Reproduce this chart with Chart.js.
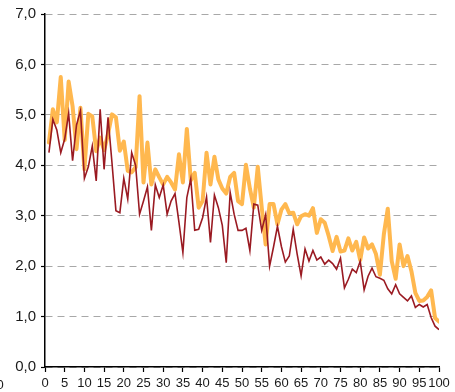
<!DOCTYPE html>
<html>
<head>
<meta charset="utf-8">
<script src="https://cdn.jsdelivr.net/npm/chart.js@4.4.1/dist/chart.umd.min.js"></script>
<style>
  html, body { margin: 0; padding: 0; background: #ffffff; }
  canvas { display: block; }
</style>
</head>
<body>
<canvas id="chart" width="455" height="392"></canvas>
<script>
// Horizontal positions of the observations
const positions = [
  1, 2, 3, 4, 5, 6, 7, 8, 9, 10,
  11, 12, 13, 14, 15, 16, 17, 18, 19, 20,
  21, 22, 23, 24, 25, 26, 27, 28, 29, 30,
  31, 32, 33, 34, 35, 36, 37, 38, 39, 40,
  41, 42, 43, 44, 45, 46, 47, 48, 49, 50,
  51, 52, 53, 54, 55, 56, 57, 58, 59, 60,
  61, 62, 63, 64, 65, 66, 67, 68, 69, 70,
  71, 72, 73, 74, 75, 76, 77, 78, 79, 80,
  81, 82, 83, 84, 85, 86, 87, 88, 89, 90,
  91, 92, 93, 94, 95, 96, 97, 98, 99, 100
];

// Light (orange) series
const lightSeries = [
  4.45, 5.11, 4.85, 5.75, 4.50, 5.66, 5.17, 4.32, 5.14, 3.92,
  5.02, 4.97, 4.28, 4.55, 4.30, 4.62, 5.01, 4.95, 4.29, 4.47,
  3.89, 3.86, 3.96, 5.37, 3.66, 4.45, 3.62, 3.92, 3.76, 3.62,
  3.77, 3.66, 3.52, 4.22, 3.66, 4.72, 3.70, 3.85, 3.16, 3.29,
  4.25, 3.62, 4.17, 3.72, 3.54, 3.44, 3.77, 3.85, 3.29, 3.23,
  4.01, 3.54, 3.16, 3.97, 3.17, 2.43, 3.23, 3.23, 2.83, 3.12,
  3.23, 3.05, 3.06, 2.83, 2.99, 3.03, 3.00, 3.15, 2.66, 2.93,
  2.86, 2.60, 2.30, 2.58, 2.29, 2.31, 2.55, 2.31, 2.48, 2.12,
  2.57, 2.35, 2.43, 2.24, 1.83, 2.63, 3.14, 2.10, 1.75, 2.43,
  2.00, 2.20, 1.90, 1.47, 1.31, 1.32, 1.39, 1.52, 0.97, 0.90
];

// Dark (red) series
const darkSeries = [
  4.25, 4.91, 4.70, 4.25, 4.52, 5.03, 4.09, 4.80, 5.08, 3.74,
  3.97, 4.38, 3.69, 5.11, 3.92, 4.95, 4.05, 3.10, 3.06, 3.74,
  3.33, 4.25, 4.00, 3.03, 3.29, 3.57, 2.71, 3.61, 3.36, 3.61,
  3.03, 3.29, 3.44, 2.87, 2.27, 3.36, 3.73, 2.71, 2.73, 2.96,
  3.37, 2.47, 3.41, 3.16, 2.81, 2.07, 3.46, 3.03, 2.71, 2.71,
  2.75, 2.31, 3.23, 3.21, 2.71, 3.02, 2.00, 2.38, 2.79, 2.39,
  2.08, 2.20, 2.73, 2.24, 1.81, 2.34, 2.10, 2.31, 2.12, 2.18,
  2.04, 2.12, 2.05, 1.94, 2.16, 1.57, 1.74, 1.94, 1.87, 2.10,
  1.53, 1.80, 1.96, 1.79, 1.76, 1.72, 1.55, 1.45, 1.63, 1.45,
  1.38, 1.31, 1.41, 1.18, 1.24, 1.19, 1.24, 0.98, 0.81, 0.74
];

// Axis tick values
const xTickValues = [0, 5, 10, 15, 20, 25, 30, 35, 40, 45, 50, 55, 60, 65, 70, 75, 80, 85, 90, 95, 100];
const yTickValues = [0, 1, 2, 3, 4, 5, 6, 7];

const toPoints = (values) => positions.map((x, i) => ({ x: x, y: values[i] }));
const fontFamily = "'Liberation Sans', Arial, sans-serif";
const textColor = '#1a1a1a';

// Stray "0" label at the bottom-left edge
const edgeLabel = {
  id: 'edgeLabel',
  afterDraw(chart) {
    const ctx = chart.ctx;
    ctx.save();
    ctx.font = "13px " + fontFamily;
    ctx.fillStyle = textColor;
    ctx.textAlign = 'center';
    ctx.textBaseline = 'middle';
    ctx.fillText('0', 0, 385);
    ctx.restore();
  }
};

new Chart(document.getElementById('chart'), {
  type: 'line',
  data: {
    datasets: [
      {
        label: 'dark',
        data: toPoints(darkSeries),
        borderColor: '#9a1a22',
        borderWidth: 1.6,
        pointRadius: 0,
        tension: 0,
        fill: false,
        order: 0
      },
      {
        label: 'light',
        data: toPoints(lightSeries),
        borderColor: '#ffb84f',
        borderWidth: 4,
        borderJoinStyle: 'round',
        borderCapStyle: 'round',
        pointRadius: 0,
        tension: 0,
        fill: false,
        order: 1
      }
    ]
  },
  options: {
    responsive: false,
    animation: false,
    devicePixelRatio: 1,
    layout: { padding: { top: 13, right: 16, left: 0, bottom: 0 } },
    plugins: { legend: { display: false }, tooltip: { enabled: false } },
    scales: {
      x: {
        type: 'linear',
        min: 0,
        max: 100,
        afterBuildTicks: (scale) => { scale.ticks = xTickValues.map(v => ({ value: v })); },
        afterFit: (scale) => { scale.height = 25; },
        ticks: {
          autoSkip: false,
          maxRotation: 0,
          font: { family: fontFamily, size: 13 },
          color: textColor,
          padding: 4,
          callback: (v) => String(v)
        },
        grid: {
          drawOnChartArea: false,
          drawTicks: true,
          tickLength: 5,
          tickColor: '#000000',
          tickWidth: 1.2
        },
        border: { display: true, color: '#000000', width: 1.5 }
      },
      y: {
        min: 0,
        max: 7,
        afterBuildTicks: (scale) => { scale.ticks = yTickValues.map(v => ({ value: v })); },
        afterFit: (scale) => { scale.width = 45; },
        ticks: {
          font: { family: fontFamily, size: 15 },
          color: textColor,
          padding: 5,
          callback: (v) => v.toFixed(1).replace('.', ',')
        },
        grid: {
          color: '#a8a8a8',
          lineWidth: 1,
          drawTicks: true,
          tickLength: 4,
          tickColor: '#000000',
          tickWidth: 1.2
        },
        border: { display: true, color: '#000000', width: 1.5, dash: [7, 5] }
      }
    }
  },
  plugins: [edgeLabel]
});
</script>
</body>
</html>
